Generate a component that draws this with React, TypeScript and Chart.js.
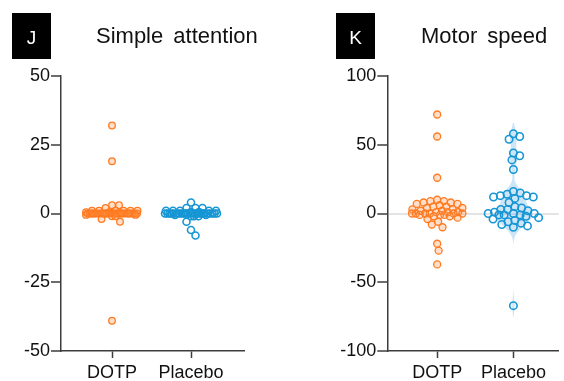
import React, { useEffect, useRef } from 'react';
import { Chart, registerables } from 'chart.js';
Chart.register(...registerables);

const categories = ['DOTP', 'Placebo'];
const simpleTitle = 'Simple attention';
const motorTitle = 'Motor speed';

const simpleDOTP = [32, 19, 3, 3, 2, 1, 1, 1, 1, 1, 1, 0.5, 0.5, 0, 0, 0, 0, 0, 0, 0, 0, 0, 0, 0, 0, 0, 0, 0, 0, 0, 0, 0, 0, 0, 0, 0, 0, 0, 0, 0, 0, -0.5, -0.5, -1, -1, -2, -3, -39];
const simplePlacebo = [4, 2, 2, 2, 1, 1, 1, 1, 1, 0.5, 0.5, 0, 0, 0, 0, 0, 0, 0, 0, 0, 0, 0, 0, 0, 0, 0, 0, 0, 0, 0, 0, 0, 0, 0, 0, 0, -0.5, -0.5, -1, -1, -1, -3, -6, -8];
const motorDOTP = [72, 56, 26, 10, 9, 9, 8, 8, 7, 7, 6, 5, 5, 4, 4, 3, 3, 2, 2, 1, 1, 1, 0, 0, 0, 0, 0, 0, -1, -1, -1, -2, -2, -3, -4, -6, -8, -10, -22, -27, -37];
const motorPlacebo = [58, 56, 54, 44, 42, 39, 32, 16, 15, 14, 13, 13, 12, 12, 11, 8, 5, 4, 3, 3, 2, 1, 0, 0, 0, -1, -1, -1, -2, -3, -4, -5, -6, -7, -8, -9, -10, -67];

const simpleRange = { min: -50, max: 50, step: 25 };
const motorRange = { min: -100, max: 100, step: 50 };

const FONT = "'Liberation Sans', Arial, Helvetica, sans-serif";
const AX = '#3c3c3c';
const ORANGE = 'rgb(255,122,32)';
const ORANGE_FILL = 'rgba(255,140,60,0.28)';
const BLUE = 'rgb(22,150,212)';
const VIOLIN = 'rgba(60,155,225,0.26)';

function swarm(values: number[], pxY: number, pxX: number, diam: number, maxHalf: number): number[] {
  const placed: [number, number][] = [];
  const cands: number[] = [0];
  for (let k = 0.5; k <= maxHalf; k += 0.5) cands.push(k, -k);
  return values.map((v) => {
    const y = v * pxY;
    let best = 0;
    let bestD = -1;
    for (const c of cands) {
      let m = Infinity;
      for (const [px, py] of placed) {
        const d = Math.hypot(px - c, py - y);
        if (d < m) m = d;
      }
      if (m > bestD) {
        bestD = m;
        best = c;
      }
      if (m >= diam) break;
    }
    placed.push([best, y]);
    return best / pxX;
  });
}

// kernel density profile of a series: returns [value, relative width]
function density(values: number[], h: number) {
  const lo = Math.min(...values) - 8;
  const hi = Math.max(...values) + 8;
  const out: { y: number; w: number }[] = [];
  for (let y = lo; y <= hi; y += 1) {
    const d = values.reduce((s, v) => s + Math.exp(-0.5 * ((y - v) / h) ** 2), 0);
    out.push({ y, w: d });
  }
  const mx = Math.max(...out.map((o) => o.w));
  return out.map((o) => ({ y: o.y, w: o.w / mx }));
}

type PanelProps = {
  left: number;
  xMin: number;
  xMax: number;
  padRight: number;
  axisW: number;
  range: { min: number; max: number; step: number };
  dotp: number[];
  placebo: number[];
  zeroLine: boolean;
  withViolin: boolean;
  radius: number;
};

function Panel(p: PanelProps) {
  const ref = useRef<HTMLCanvasElement>(null);
  useEffect(() => {
    if (!ref.current) return;
    const plotH = 275;
    const pxY = plotH / (p.range.max - p.range.min);
    const plotW = 282 - p.axisW - p.padRight;
    const pxX = plotW / (p.xMax - p.xMin);
    const offD = swarm(p.dotp, pxY, pxX, 7, 26);
    const offP = swarm(p.placebo, pxY, pxX, 7, 26);
    const prof = p.withViolin ? density(p.placebo, 5) : [];
    const violinPlugin = {
      id: 'violin',
      beforeDatasetsDraw(chart: any) {
        if (!prof.length) return;
        const { ctx, scales } = chart;
        const xs = scales.x;
        const ys = scales.y;
        const cx = xs.getPixelForValue(2);
        const maxHalf = 19;
        ctx.save();
        ctx.beginPath();
        prof.forEach((o, i) => {
          const px = cx + o.w * maxHalf;
          const py = ys.getPixelForValue(o.y);
          if (i === 0) ctx.moveTo(px, py);
          else ctx.lineTo(px, py);
        });
        for (let i = prof.length - 1; i >= 0; i--) {
          ctx.lineTo(cx - prof[i].w * maxHalf, ys.getPixelForValue(prof[i].y));
        }
        ctx.closePath();
        ctx.fillStyle = VIOLIN;
        ctx.fill();
        ctx.restore();
      },
    };
    const datasets: any[] = [
      {
        data: p.dotp.map((v, i) => ({ x: 1 + offD[i], y: v })),
        pointRadius: p.radius,
        borderWidth: 1.3,
        borderColor: ORANGE,
        backgroundColor: ORANGE_FILL,
        pointHoverRadius: p.radius,
      },
      {
        data: p.placebo.map((v, i) => ({ x: 2 + offP[i], y: v })),
        pointRadius: p.radius + 0.2,
        borderWidth: 1.6,
        borderColor: BLUE,
        backgroundColor: 'rgba(255,255,255,0)',
        pointHoverRadius: p.radius + 0.2,
      },
    ];
    const chart = new Chart(ref.current, {
      type: 'scatter',
      data: { datasets },
      plugins: [violinPlugin],
      options: {
        responsive: false,
        animation: false,
        layout: { padding: { left: 0, right: p.padRight, top: 76, bottom: 0 } },
        plugins: { legend: { display: false }, tooltip: { enabled: false } },
        scales: {
          x: {
            type: 'linear',
            min: p.xMin,
            max: p.xMax,
            afterBuildTicks: (s: any) => {
              s.ticks = [{ value: 1 }, { value: 2 }];
            },
            afterFit: (s: any) => {
              s.height = 30;
            },
            ticks: {
              callback: (v: any) => categories[Math.round(Number(v)) - 1],
              font: { family: FONT, size: 18 },
              color: '#111',
              padding: 4,
              maxRotation: 0,
              autoSkip: false,
            },
            grid: { drawOnChartArea: false, tickLength: 7, tickColor: AX, tickWidth: 1.5 },
            border: { color: AX, width: 1.5 },
          },
          y: {
            min: p.range.min,
            max: p.range.max,
            afterFit: (s: any) => {
              s.width = p.axisW;
            },
            ticks: {
              stepSize: p.range.step,
              font: { family: FONT, size: 18 },
              color: '#111',
              padding: 1,
            },
            grid: {
              drawOnChartArea: p.zeroLine,
              color: (ctx: any) => (ctx.tick && ctx.tick.value === 0 ? '#e4e4e4' : 'rgba(0,0,0,0)'),
              lineWidth: 2,
              tickLength: 10,
              tickColor: AX,
              tickWidth: 1.5,
            },
            border: { color: AX, width: 1.5 },
          },
        },
      } as any,
    });
    return () => chart.destroy();
  }, []);
  return (
    <canvas
      ref={ref}
      width={282}
      height={381}
      style={{ position: 'absolute', left: p.left, top: 0, width: 282, height: 381 }}
    />
  );
}

function Letter({ left, text }: { left: number; text: string }) {
  return (
    <div
      style={{
        position: 'absolute',
        left,
        top: 13,
        width: 39,
        height: 46,
        background: '#000',
      }}
    >
      <div
        style={{
          position: 'absolute',
          left: 0,
          width: 39,
          top: 15,
          textAlign: 'center',
          color: '#fff',
          fontFamily: FONT,
          fontSize: 19,
          lineHeight: '19px',
        }}
      >
        {text}
      </div>
    </div>
  );
}

function Title({ left, text }: { left: number; text: string }) {
  return (
    <div
      style={{
        position: 'absolute',
        left,
        top: 24.7,
        whiteSpace: 'nowrap',
        color: '#111',
        fontFamily: FONT,
        fontSize: 22,
        lineHeight: '22px',
        wordSpacing: 4,
      }}
    >
      {text}
    </div>
  );
}

export default function App() {
  return (
    <div style={{ position: 'absolute', left: 0, top: 0, width: 564, height: 381, background: '#fff', overflow: 'hidden' }}>
      <Panel
        left={0}
        xMin={0.354}
        xMax={2.671}
        padRight={38}
        axisW={61}
        range={simpleRange}
        dotp={simpleDOTP}
        placebo={simplePlacebo}
        zeroLine={false}
        withViolin={false}
        radius={3.3}
      />
      <Panel
        left={282}
        xMin={0.346}
        xMax={2.594}
        padRight={0}
        axisW={105.3}
        range={motorRange}
        dotp={motorDOTP}
        placebo={motorPlacebo}
        zeroLine={true}
        withViolin={true}
        radius={3.5}
      />
      <Letter left={12} text="J" />
      <Title left={96} text={simpleTitle} />
      <Letter left={336} text="K" />
      <Title left={421} text={motorTitle} />
    </div>
  );
}
